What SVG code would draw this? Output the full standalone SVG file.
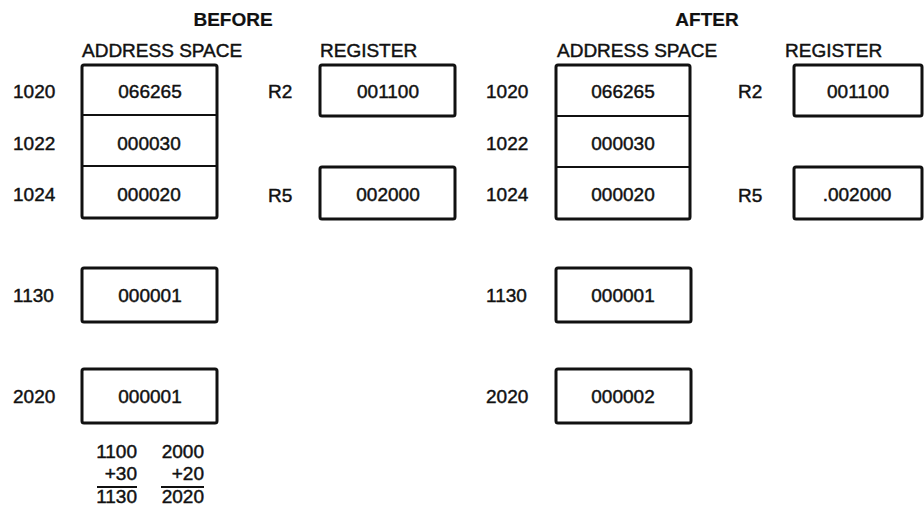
<svg xmlns="http://www.w3.org/2000/svg" width="924" height="510" viewBox="0 0 924 510">
<style>
text{font-family:"Liberation Sans",Arial,sans-serif;font-size:19px;fill:#111;stroke:#111;stroke-width:0.45}
.h{font-weight:bold;stroke-width:0.2}
.c{text-anchor:middle}
.r{text-anchor:end}
.box{fill:none;stroke:#111;stroke-width:3}
.ln{stroke:#111;stroke-width:2.2}
</style>
<rect width="924" height="510" fill="#fff"/>
<g id="before">
<text class="h c" x="233" y="26">BEFORE</text>
<text x="82" y="57">ADDRESS SPACE</text>
<text x="320" y="57">REGISTER</text>
<g id="b-mem">
<rect class="box" x="82" y="65" width="135" height="153" rx="2"/>
<line class="ln" x1="82" y1="115" x2="217" y2="115"/>
<line class="ln" x1="82" y1="166" x2="217" y2="166"/>
<text x="13" y="98">1020</text>
<text x="13" y="150">1022</text>
<text x="13" y="201">1024</text>
<text class="c" x="150" y="98">066265</text>
<text class="c" x="149" y="150">000030</text>
<text class="c" x="149" y="201">000020</text>
</g>
<g id="b-r2">
<text x="268" y="98">R2</text>
<rect class="box" x="320" y="65" width="135" height="51" rx="2"/>
<text class="c" x="388" y="98">001100</text>
</g>
<g id="b-r5">
<text x="268" y="202">R5</text>
<rect class="box" x="320" y="167" width="135" height="52" rx="2"/>
<text class="c" x="388" y="201">002000</text>
</g>
<g id="b-1130">
<text x="13" y="302">1130</text>
<rect class="box" x="82" y="268" width="135" height="54" rx="2"/>
<text class="c" x="150" y="302">000001</text>
</g>
<g id="b-2020">
<text x="13" y="403">2020</text>
<rect class="box" x="82" y="369" width="135" height="54" rx="2"/>
<text class="c" x="150" y="403">000001</text>
</g>
<g id="calc">
<text class="r" x="137" y="458">1100</text>
<text class="r" x="204" y="458">2000</text>
<text class="r" x="137" y="480">+30</text>
<text class="r" x="204" y="480">+20</text>
<line class="ln" x1="97" y1="487" x2="137" y2="487"/>
<line class="ln" x1="161" y1="487" x2="204" y2="487"/>
<text class="r" x="137" y="503">1130</text>
<text class="r" x="204" y="503">2020</text>
</g>
</g>
<g id="after">
<text class="h c" x="707" y="26">AFTER</text>
<text x="557" y="57">ADDRESS SPACE</text>
<text x="785" y="57">REGISTER</text>
<g id="a-mem">
<rect class="box" x="556" y="65" width="134" height="154" rx="2"/>
<line class="ln" x1="556" y1="116" x2="690" y2="116"/>
<line class="ln" x1="556" y1="167" x2="690" y2="167"/>
<text x="486" y="98">1020</text>
<text x="486" y="150">1022</text>
<text x="486" y="201">1024</text>
<text class="c" x="623" y="98">066265</text>
<text class="c" x="623" y="150">000030</text>
<text class="c" x="623" y="201">000020</text>
</g>
<g id="a-r2">
<text x="738" y="98">R2</text>
<rect class="box" x="794" y="65" width="128" height="51" rx="2"/>
<text class="c" x="858" y="98">001100</text>
</g>
<g id="a-r5">
<text x="738" y="202">R5</text>
<rect class="box" x="794" y="167" width="128" height="52" rx="2"/>
<text class="c" x="857" y="201">.002000</text>
</g>
<g id="a-1130">
<text x="486" y="302">1130</text>
<rect class="box" x="556" y="268" width="135" height="54" rx="2"/>
<text class="c" x="623" y="302">000001</text>
</g>
<g id="a-2020">
<text x="486" y="403">2020</text>
<rect class="box" x="556" y="369" width="135" height="54" rx="2"/>
<text class="c" x="623" y="403">000002</text>
</g>
</g>
</svg>
